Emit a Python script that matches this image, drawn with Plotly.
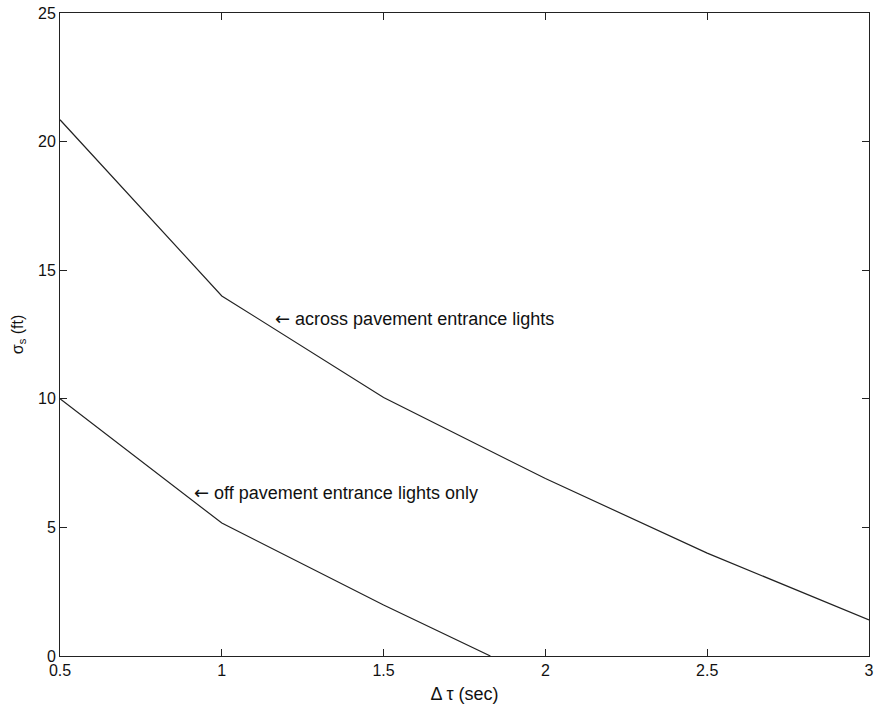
import plotly.graph_objects as go

# Data
upper_x = [0.5, 1.0, 1.5, 2.0, 2.5, 3.0]
upper_y = [20.85, 14.0, 10.05, 6.9, 4.0, 1.4]

lower_x = [0.5, 1.0, 1.5, 1.83]
lower_y = [10.0, 5.17, 1.98, 0.0]

x_ticks = [0.5, 1, 1.5, 2, 2.5, 3]
x_tick_labels = ["0.5", "1", "1.5", "2", "2.5", "3"]
y_ticks = [0, 5, 10, 15, 20, 25]
y_tick_labels = ["0", "5", "10", "15", "20", "25"]

label_upper = "across pavement entrance lights"
label_lower = "off pavement entrance lights only"

FONT = "Liberation Sans, Arial, Helvetica, sans-serif"
ARROW = '<span style="font-family:DejaVu Sans">\u2190</span> '

fig = go.Figure()
fig.add_trace(go.Scatter(x=upper_x, y=upper_y, mode="lines",
                         line=dict(color="#222222", width=1.2), showlegend=False))
fig.add_trace(go.Scatter(x=lower_x, y=lower_y, mode="lines",
                         line=dict(color="#222222", width=1.2), showlegend=False))

fig.add_annotation(x=1.157, y=13.14, text=ARROW + label_upper, showarrow=False,
                   xanchor="left", yanchor="middle",
                   font=dict(family=FONT, size=18, color="#111111"))
fig.add_annotation(x=0.907, y=6.34, text=ARROW + label_lower, showarrow=False,
                   xanchor="left", yanchor="middle",
                   font=dict(family=FONT, size=18, color="#111111"))

axis_common = dict(showgrid=False, zeroline=False, showline=True, linecolor="#222222",
                   linewidth=1, mirror="ticks", ticks="inside", ticklen=7,
                   tickcolor="#222222", ticklabeloverflow="allow",
                   tickfont=dict(family=FONT, size=16, color="#111111"))

fig.update_xaxes(range=[0.5, 3], tickvals=x_ticks, ticktext=x_tick_labels,
                 title=dict(text="\u0394 \u03c4 (sec)", standoff=9,
                            font=dict(family=FONT, size=18, color="#111111")),
                 **axis_common)
fig.update_yaxes(range=[0, 25], tickvals=y_ticks, ticktext=y_tick_labels,
                 title=dict(text="\u03c3<sub>s</sub> (ft)", standoff=10,
                            font=dict(family=FONT, size=16, color="#111111")),
                 **axis_common)

fig.update_layout(width=878, height=705, autosize=False,
                  margin=dict(l=60, r=9, t=13, b=49, autoexpand=False),
                  plot_bgcolor="white", paper_bgcolor="white")

fig.write_html("out.html", config={"displayModeBar": False},
               post_script="document.body.style.margin='0';document.body.style.overflow='hidden';")
